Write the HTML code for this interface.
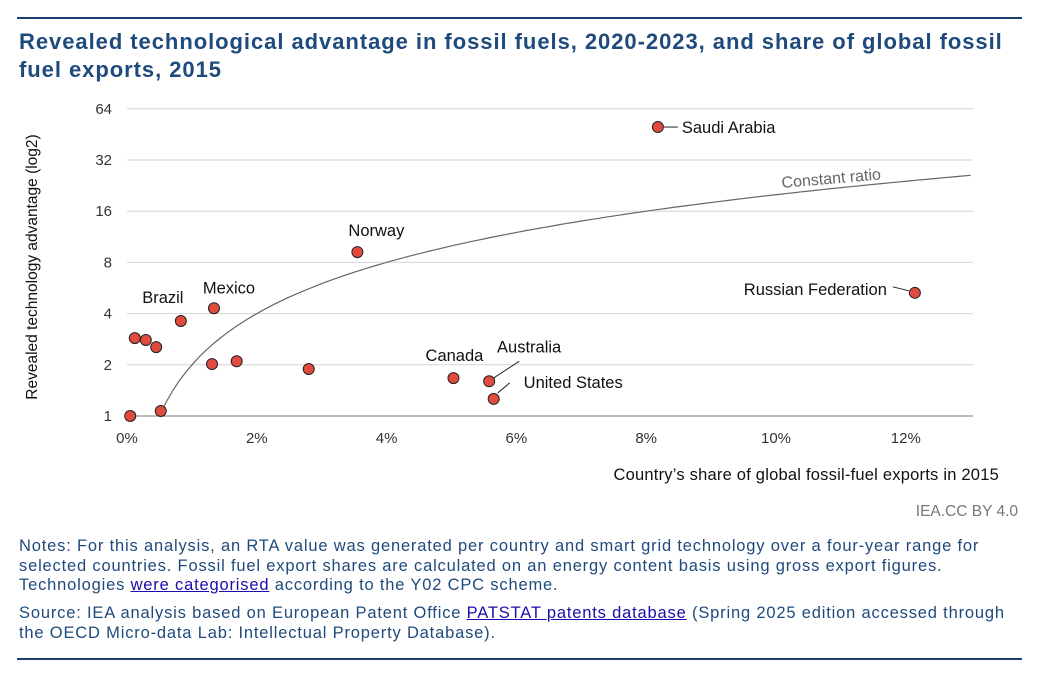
<!DOCTYPE html>
<html><head><meta charset="utf-8"><style>
body{margin:0;background:#fff;font-family:"Liberation Sans",Arial,sans-serif;}
#wrap{position:relative;width:1059px;height:693px;}
.rule{position:absolute;left:17px;width:1005px;height:2px;background:#1f3f6e;}
h1{position:absolute;left:19px;top:28px;margin:0;font-size:22px;line-height:28px;color:#1f4a7c;font-weight:bold;width:1010px;white-space:nowrap;letter-spacing:0.95px;}
.notes{position:absolute;left:19px;font-size:15.5px;color:#1f4a7c;line-height:19.5px;white-space:nowrap;}
.notes a{color:#1a0dab;text-decoration:underline;}
</style></head><body>
<div id="wrap">
<div class="rule" style="top:17px"></div>
<h1>Revealed technological advantage in fossil fuels, 2020-2023, and share of global fossil<br>fuel exports, 2015</h1>
<svg id="chart" width="1059" height="693" style="position:absolute;left:0;top:0"></svg>
<div class="notes" style="top:537px;font-size:16.5px;letter-spacing:0.82px">Notes: For this analysis, an RTA value was generated per country and smart grid technology over a four-year range for<br>selected countries. Fossil fuel export shares are calculated on an energy content basis using gross export figures.<br>Technologies <a>were categorised</a> according to the Y02 CPC scheme.</div>
<div class="notes" style="top:604px;font-size:16.5px;letter-spacing:0.82px">Source: IEA analysis based on European Patent Office <a>PATSTAT patents database</a> (Spring 2025 edition accessed through<br>the OECD Micro-data Lab: Intellectual Property Database).</div>
<div class="rule" style="top:658px"></div>
</div>
<script>
const xVals=[0.05,0.52,0.12,0.29,0.45,0.83,1.34,1.31,1.69,2.8,3.55,5.03,5.58,5.65,8.18,12.14];
const yVals=[1.0,1.07,2.87,2.8,2.54,3.62,4.3,2.02,2.1,1.89,9.2,1.67,1.6,1.26,50,5.3];
const labels=["","","","","","Brazil","Mexico","","","","Norway","Canada","Australia","United States","Saudi Arabia","Russian Federation"];
const xTicks=[0,2,4,6,8,10,12];
const yTicks=[1,2,4,8,16,32,64];
const ratioK=2;
const svg=document.getElementById('chart');const NS='http://www.w3.org/2000/svg';
const X0=127,PX=64.9,Y0=416,PY=51.2,XR=973;
const sx=v=>X0+v*PX, sy=v=>Y0-Math.log2(v)*PY;
function mk(t,a,p){const e=document.createElementNS(NS,t);for(const k in a)e.setAttribute(k,a[k]);(p||svg).appendChild(e);return e;}
yTicks.forEach((t,i)=>{
 const g=mk('line',{x1:X0,x2:XR,y1:sy(t),y2:sy(t),stroke:i==0?'#777':'#d4d4d4','stroke-width':1});
 
 const l=mk('text',{x:112,y:sy(t)+5,'text-anchor':'end','font-size':15,fill:'#333'});l.textContent=t;
 
});
xTicks.forEach(t=>{
 const l=mk('text',{x:sx(t),y:443,'text-anchor':'middle','font-size':15,fill:'#333'});l.textContent=t+'%';
 
});
let yt=mk('text',{x:0,y:0,transform:'translate(37,267) rotate(-90)','text-anchor':'middle','font-size':15.5,fill:'#111'});
yt.textContent='Revealed technology advantage (log2)';

let xt=mk('text',{x:999,y:480,'text-anchor':'end','font-size':16.5,fill:'#111','letter-spacing':0.22});
xt.textContent='Country’s share of global fossil-fuel exports in 2015';

let cr=mk('text',{x:1018,y:516,'text-anchor':'end','font-size':15.5,fill:'#777'});cr.textContent='IEA.CC BY 4.0';

let d='';for(let i=0;i<=120;i++){const x=0.5+(13-0.5)*i/120;d+=(i?'L':'M')+sx(x).toFixed(1)+','+sy(ratioK*x).toFixed(1);}
let cl=mk('path',{d:d,fill:'none',stroke:'#666','stroke-width':1.2});

let ct=mk('text',{x:0,y:0,transform:'translate(782,188) rotate(-5)','font-size':16,fill:'#666'});ct.textContent='Constant ratio';

const lab={5:[-18,-18,'middle'],6:[15,-15,'middle'],10:[19,-16,'middle'],11:[1,-17,'middle'],12:[40,-29,'middle'],13:[30,-11,'start'],14:[24,6,'start'],15:[-28,2,'end']};
xVals.forEach((v,i)=>{
 const cx=sx(v),cy=sy(yVals[i]);
 const L=lab[i];
 if(L&&labels[i]){
  if(i==13){const ln=mk('path',{d:`M${cx+4},${cy-6} L${cx+16},${cy-16}`,stroke:'#222',fill:'none'});}
  if(i==12){const ln=mk('path',{d:`M${cx+4},${cy-3} L${cx+30},${cy-20}`,stroke:'#222',fill:'none'});}
  if(i==14){const ln=mk('line',{x1:cx+6,x2:cx+20,y1:cy,y2:cy,stroke:'#222'});}
  if(i==15){const ln=mk('path',{d:`M${cx-6},${cy-2} L${cx-22},${cy-6}`,stroke:'#222',fill:'none'});}
  const t=mk('text',{x:cx+L[0],y:cy+L[1],'text-anchor':L[2],'font-size':16.5,fill:'#111'});t.textContent=labels[i];
  
 }
 const c=mk('circle',{cx:cx,cy:cy,r:5.5,fill:'#e04a3f',stroke:'#222','stroke-width':1});
 
});
</script>
</body></html>
